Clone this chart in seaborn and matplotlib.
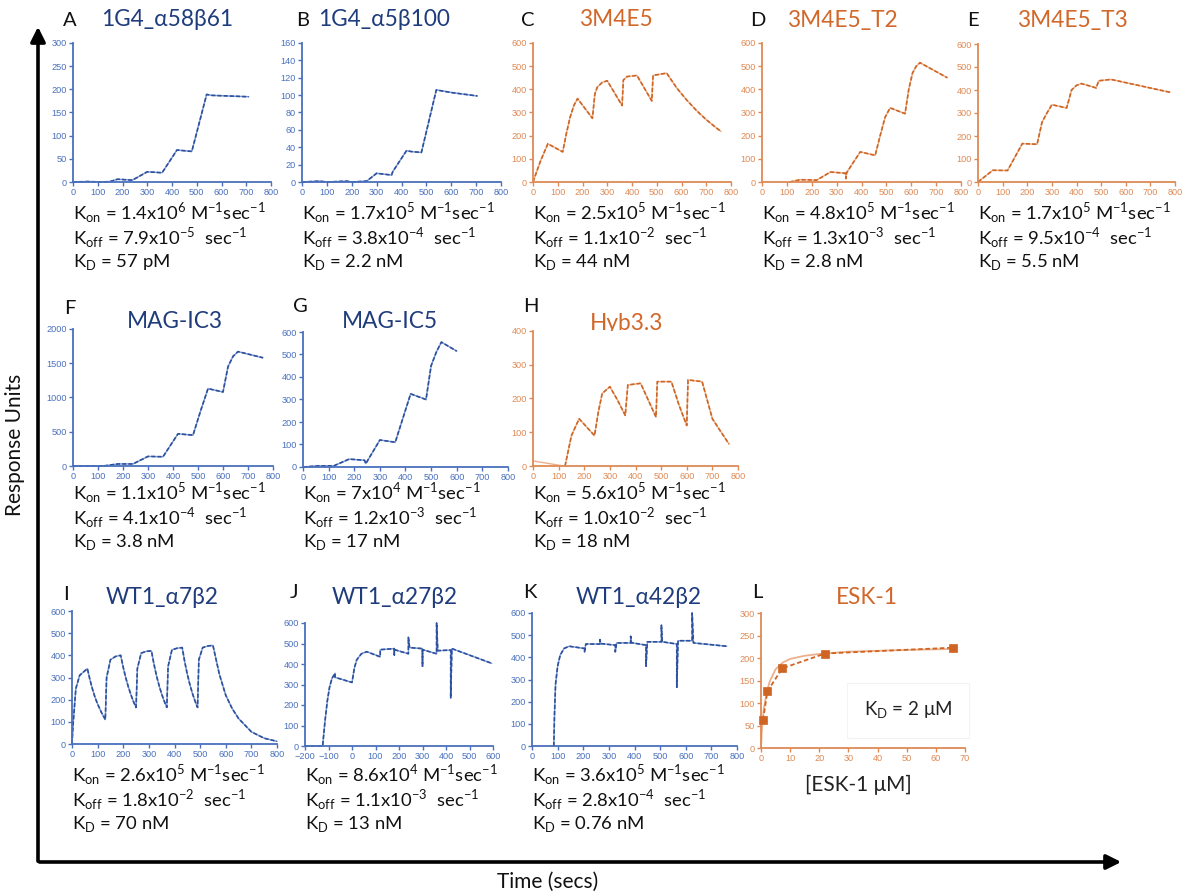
import numpy as np
import pandas as pd
import matplotlib
matplotlib.use("Agg")
import matplotlib.pyplot as plt
import seaborn as sns

# ---------------- data ----------------
a_time = [0, 60, 120, 150, 180, 240, 300, 360, 420, 480, 540, 560, 710]
a_resp = [0, 1, 0, 1, 6, 4, 22, 20, 69, 66, 189, 187, 184]

b_time = [0, 70, 100, 180, 200, 260, 300, 360, 365, 420, 440, 480, 540, 600, 705]
b_resp = [0, 1, 0, 1, 0, 1, 10, 8, 12, 36, 35, 34, 106, 103, 99]

c_time = [0, 30, 60, 120, 135, 150, 165, 180, 240, 250, 260, 280, 300, 360, 365, 380, 420,
          480, 485, 540, 580, 620, 660, 700, 740, 760]
c_resp = [0, 90, 165, 130, 210, 280, 330, 360, 275, 380, 410, 430, 437, 330, 440, 455, 460,
          350, 460, 470, 407, 355, 309, 269, 234, 218]

d_time = [110, 155, 220, 275, 335, 338, 340, 395, 455, 475, 495, 515, 575, 590, 605, 620, 635, 745]
d_resp = [0, 10, 8, 43, 38, 15, 40, 130, 115, 200, 280, 320, 295, 400, 470, 500, 515, 450]

e_time = [0, 60, 120, 180, 240, 260, 280, 300, 360, 380, 400, 420, 480, 490, 540, 780]
e_resp = [0, 51, 50, 167, 164, 260, 300, 336, 322, 400, 420, 428, 409, 440, 446, 390]

f_time = [0, 120, 180, 240, 300, 360, 420, 480, 510, 540, 600, 620, 640, 660, 760]
f_resp = [0, 0, 30, 30, 140, 135, 470, 450, 800, 1130, 1080, 1450, 1600, 1670, 1580]

g_time = [0, 60, 120, 180, 240, 245, 300, 360, 420, 480, 500, 520, 540, 600]
g_resp = [0, 5, 5, 35, 30, 15, 120, 110, 325, 300, 450, 510, 555, 515]

h_base_time = [0, 120]
h_base_resp = [15, 0]
h_time = [125, 150, 180, 240, 255, 270, 300, 330, 360, 370, 420, 450, 480, 485, 540, 570, 600,
          605, 660, 700, 730, 765]
h_resp = [0, 90, 140, 90, 160, 215, 235, 195, 150, 240, 245, 195, 145, 250, 250, 180, 120,
          255, 250, 140, 105, 65]

i_time = [0, 5, 15, 30, 60, 70, 80, 90, 100, 115, 130,
          135, 150, 170, 190, 200, 210, 220, 230, 240, 250,
          255, 270, 290, 310, 320, 330, 340, 350, 360, 370,
          375, 390, 410, 430, 440, 450, 460, 470, 480, 490,
          495, 510, 530, 550, 575, 600, 625, 650, 700, 750, 800]
i_resp = [0, 100, 250, 310, 340, 290, 247, 210, 180, 142, 110,
          300, 380, 395, 400, 345, 298, 257, 222, 191, 165,
          340, 410, 418, 420, 359, 307, 263, 225, 193, 165,
          350, 425, 432, 435, 370, 315, 268, 228, 194, 165,
          380, 435, 442, 445, 315, 220, 160, 115, 55, 26, 12]

j_time = [-200, -125, -115, -105, -95, -85, -72, -72, 0, 10, 20, 40, 63, 120, 120, 180, 180, 180,
          240, 240, 245, 300, 300, 300, 360, 360, 365, 420, 420, 425, 595]
j_resp = [0, 0, 120, 220, 290, 330, 355, 335, 310, 380, 420, 450, 460, 435, 470, 475, 445, 470,
          450, 530, 480, 475, 390, 470, 450, 600, 465, 468, 235, 475, 403]

k_time = [85, 88, 92, 100, 110, 125, 145, 205, 205, 210, 265, 265, 268, 325, 325, 330, 385, 385,
          388, 445, 445, 450, 505, 505, 508, 565, 565, 570, 625, 625, 630, 760]
k_resp = [0, 150, 280, 360, 410, 440, 450, 440, 425, 460, 460, 480, 462, 455, 425, 465, 465, 495,
          466, 455, 360, 470, 470, 545, 470, 460, 265, 475, 475, 600, 465, 450]

l_conc = [0.7, 2.2, 7.3, 22, 66]
l_resp = [62, 126, 177, 210, 223]
l_fit_conc = [0, 0.3, 0.7, 1, 2, 3, 5, 7.5, 10, 15, 20, 30, 40, 50, 66]
l_fit_resp = [0, 40, 70, 88, 125, 148, 175, 190, 198, 205, 209, 214, 216, 218, 220]

panel_letters = ["A", "B", "C", "D", "E", "F", "G", "H", "I", "J", "K", "L"]
panel_titles = ["1G4_α58β61", "1G4_α5β100", "3M4E5", "3M4E5_T2", "3M4E5_T3",
                "MAG-IC3", "MAG-IC5", "Hyb3.3", "WT1_α7β2", "WT1_α27β2", "WT1_α42β2", "ESK-1"]
kon_mant = ["1.4", "1.7", "2.5", "4.8", "1.7", "1.1", "7", "5.6", "2.6", "8.6", "3.6"]
kon_exp = ["6", "5", "5", "5", "5", "5", "4", "5", "5", "4", "5"]
koff_mant = ["7.9", "3.8", "1.1", "1.3", "9.5", "4.1", "1.2", "1.0", "1.8", "1.1", "2.8"]
koff_exp = ["-5", "-4", "-2", "-3", "-4", "-4", "-3", "-2", "-2", "-3", "-4"]
kd_text = ["57 pM", "2.2 nM", "44 nM", "2.8 nM", "5.5 nM", "3.8 nM", "17 nM", "18 nM",
           "70 nM", "13 nM", "0.76 nM"]

# ---------------- style ----------------
sns.set_style("ticks")
plt.rcParams["font.family"] = ["Lato", "DejaVu Sans"]

BLUE_LINE = "#7A98D0"
BLUE_DASH = "#2D509E"
BLUE_TICK = "#4A70BC"
NAVY = "#1F3C7C"
OR_LINE = "#EDB08A"
OR_DASH = "#CF6423"
OR_TICK = "#DE8A55"
OR_TITLE = "#D2672A"

W, H = 1185, 896
fig = plt.figure(figsize=(W / 100, H / 100), dpi=100)

overlay = fig.add_axes([0, 0, 1, 1], zorder=-1)
overlay.set_xlim(0, W)
overlay.set_ylim(H, 0)
overlay.axis("off")


def make_ax(left, right, top, bottom):
    return fig.add_axes([left / W, 1 - bottom / H, (right - left) / W, (bottom - top) / H])


def style_ax(ax, color, xt, yt):
    ax.set_xlim(xt[0], xt[-1])
    ax.set_ylim(yt[0], yt[-1])
    ax.set_xticks(xt)
    ax.set_yticks(yt)
    for s in ["top", "right"]:
        ax.spines[s].set_visible(False)
    for s in ["left", "bottom"]:
        ax.spines[s].set_color(color)
        ax.spines[s].set_linewidth(1.3)
    ax.tick_params(colors=color, labelsize=6.6, length=3, width=1, pad=1.5)
    for lab in ax.get_xticklabels() + ax.get_yticklabels():
        lab.set_fontfamily("Liberation Sans")
    ax.set_xlabel("")
    ax.set_ylabel("")


def trace(ax, t, r, kind):
    df = pd.DataFrame({"t": t, "r": r})
    light, dark = (BLUE_LINE, BLUE_DASH) if kind == "b" else (OR_LINE, OR_DASH)
    sns.lineplot(data=df, x="t", y="r", ax=ax, sort=False, estimator=None,
                 color=light, lw=1.0, clip_on=False)
    sns.lineplot(data=df, x="t", y="r", ax=ax, sort=False, estimator=None,
                 color=dark, lw=1.2, linestyle=(0, (2.5, 1.2)), clip_on=False)


x800 = list(range(0, 801, 100))
panels = [
    ((73, 271, 43, 182), a_time, a_resp, "b", list(range(0, 301, 50)), x800),
    ((302, 501, 43, 182), b_time, b_resp, "b", list(range(0, 161, 20)), x800),
    ((533, 731, 43, 182), c_time, c_resp, "o", list(range(0, 601, 100)), x800),
    ((762, 961, 43, 182), d_time, d_resp, "o", list(range(0, 601, 100)), x800),
    ((978, 1175, 44, 182), e_time, e_resp, "o", list(range(0, 601, 100)), x800),
    ((73, 273, 329, 466), f_time, f_resp, "b", list(range(0, 2001, 500)), x800),
    ((303, 508, 332, 467), g_time, g_resp, "b", list(range(0, 601, 100)), x800),
    ((533, 738, 331, 466), h_time, h_resp, "o", list(range(0, 401, 100)), x800),
    ((72, 277, 611, 744), i_time, i_resp, "b", list(range(0, 601, 100)), x800),
    ((305, 493, 623, 746), j_time, j_resp, "b", list(range(0, 601, 100)), list(range(-200, 601, 100))),
    ((532, 737, 613, 746), k_time, k_resp, "b", list(range(0, 601, 100)), x800),
]

for i, (box, t, r, kind, yt, xt) in enumerate(panels):
    ax = make_ax(*box)
    if i == 7:
        sns.lineplot(x=h_base_time, y=h_base_resp, ax=ax, color=OR_LINE, lw=1.0)
    trace(ax, t, r, kind)
    style_ax(ax, BLUE_TICK if kind == "b" else OR_TICK, xt, yt)

# Panel L: binding isotherm
axl = make_ax(761, 965, 613, 748)
sns.lineplot(x=l_fit_conc, y=l_fit_resp, ax=axl, color=OR_LINE, lw=1.3, estimator=None)
sns.lineplot(x=l_conc, y=l_resp, ax=axl, color=OR_DASH, lw=1.3, linestyle=(0, (2.5, 1.5)),
             estimator=None)
sns.scatterplot(x=l_conc, y=l_resp, ax=axl, color=OR_DASH, marker="s", s=36,
                edgecolor=OR_DASH, zorder=5, clip_on=False)
style_ax(axl, OR_TICK, list(range(0, 71, 10)), list(range(0, 301, 50)))
axl.text(0.72, 0.28, r"K$_{\mathregular{D}}$ = 2 μM", transform=axl.transAxes, ha="center",
         va="center", fontsize=13.5, color="#222222",
         bbox=dict(boxstyle="square,pad=0.9", fc="white", ec="#f3f3f3", lw=0.8))
overlay.text(858, 785, "[ESK-1 μM]", ha="center", va="center", fontsize=15, color="#222222")

# ---------------- titles and letters ----------------
title_pos = [(167, 20), (384, 20), (616, 20), (842, 20), (1072, 20),
             (175, 321), (390, 322), (627, 323),
             (162, 597), (395, 597), (639, 597), (867, 597)]
letter_pos = [(70, 20), (303, 20), (528, 20), (758, 20), (973, 20),
              (70, 308), (300, 307), (531, 307),
              (66, 594), (294, 593), (530, 593), (757, 593)]
title_colors = [NAVY, NAVY, OR_TITLE, OR_TITLE, OR_TITLE, NAVY, NAVY, OR_TITLE,
                NAVY, NAVY, NAVY, OR_TITLE]
for (tx, ty), (lx, ly), title, letter, col in zip(title_pos, letter_pos, panel_titles,
                                                    panel_letters, title_colors):
    overlay.text(tx, ty, title, ha="center", va="center", fontsize=16.3, color=col)
    overlay.text(lx, ly, letter, ha="center", va="center", fontsize=14.5, color="#111111")

# ---------------- kinetic constants ----------------
text_x = [73, 302, 533, 762, 978, 73, 303, 533, 72, 305, 532]
text_y = [213, 213, 213, 213, 213, 493, 493, 493, 775, 775, 775]
for k in range(11):
    x0, y0 = text_x[k], text_y[k]
    l1 = (r"K$_{\mathregular{on}}$ = " + kon_mant[k] + r"x10$^{\mathregular{" + kon_exp[k]
          + r"}}$ M$^{\mathregular{-1}}$sec$^{\mathregular{-1}}$")
    l2 = (r"K$_{\mathregular{off}}$ = " + koff_mant[k] + r"x10$^{\mathregular{" + koff_exp[k]
          + r"}}$  sec$^{\mathregular{-1}}$")
    l3 = r"K$_{\mathregular{D}}$ = " + kd_text[k]
    for j, s in enumerate([l1, l2, l3]):
        overlay.text(x0, y0 + 24.5 * j, s, ha="left", va="center", fontsize=13.3,
                     color="#111111")

# ---------------- big axes arrows ----------------
overlay.annotate("", xy=(38, 24), xytext=(38, 864),
                 arrowprops=dict(arrowstyle="-|>", lw=2.6, color="black", mutation_scale=22))
overlay.annotate("", xy=(1124, 862), xytext=(36.7, 862),
                 arrowprops=dict(arrowstyle="-|>", lw=2.6, color="black", mutation_scale=22))
overlay.text(15, 445, "Response Units", rotation=90, ha="center", va="center",
             fontsize=15, color="#111111")
overlay.text(548, 882, "Time (secs)", ha="center", va="center", fontsize=15, color="#111111")

fig.savefig("out.png", dpi=100)
